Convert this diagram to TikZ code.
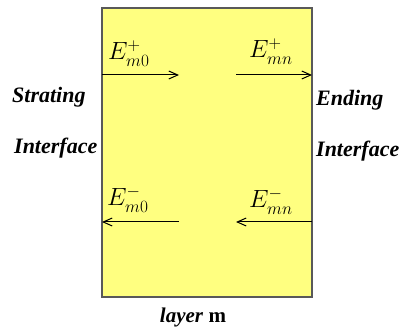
\documentclass[tikz,border=0pt]{standalone}
\usepackage{fontspec}
\setmainfont{Liberation Serif}
\usepackage{tikz}
\usetikzlibrary{arrows.meta}

\tikzset{
  sidelabel/.style={font=\fontsize{22}{24}\selectfont\bfseries\itshape, anchor=base west, inner sep=0pt},
  fieldlabel/.style={font=\fontsize{23}{25}\selectfont, anchor=base west, inner sep=0pt},
  wave/.style={-{Straight Barb[length=9pt,width=8pt,line width=1pt]}, line width=1pt}
}

\begin{document}
\begin{tikzpicture}[x=1pt, y=-1pt]
        \useasboundingbox (0,0) rectangle (408,331);

        % The layer (yellow slab)
        \draw[fill={rgb,255:red,255;green,255;blue,128}, draw=black!65, line width=1.6pt] (102,8) rectangle (312,297);

        % Interface labels
        \node[sidelabel] (strating) at (12,103) {Strating};
        \node[sidelabel] (interL) at (14,154) {Interface};
        \node[sidelabel] (ending) at (316,106) {Ending};
        \node[sidelabel] (interR) at (316,157) {Interface};

        % Layer name
        \node[inner sep=0pt, anchor=base] (layer) at (193,323) {\fontsize{21}{23}\selectfont\bfseries\itshape layer\/ \upshape m};

        % Arrow end points
        \coordinate (p0) at (102,75);
        \coordinate (p1) at (179,75);
        \coordinate (pn0) at (236,75);
        \coordinate (pn1) at (312,75);
        \coordinate (m0) at (179,222);
        \coordinate (m1) at (102,222);
        \coordinate (mn0) at (312,222);
        \coordinate (mn1) at (236,222);

        % Forward waves
        \draw[wave] (p0) -- (p1);
        \draw[wave] (pn0) -- (pn1);

        % Backward waves
        \draw[wave] (m0) -- (m1);
        \draw[wave] (mn0) -- (mn1);

        % Field labels
        \node[fieldlabel] (Ep0) at (108,60) {$E^{+}_{m0}$};
        \node[fieldlabel] (Epn) at (249,58) {$E^{+}_{mn}$};
        \node[fieldlabel] (Em0) at (107,206) {$E^{-}_{m0}$};
        \node[fieldlabel] (Emn) at (249,208) {$E^{-}_{mn}$};

    \end{tikzpicture}
\end{document}
